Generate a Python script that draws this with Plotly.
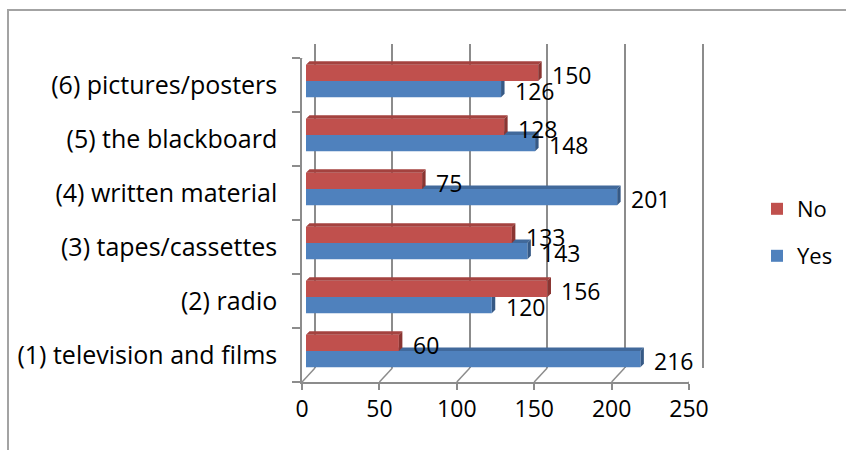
import plotly.graph_objects as go

# ---- data -------------------------------------------------------------
categories = [
    "(1) television and films",
    "(2) radio",
    "(3) tapes/cassettes",
    "(4) written material",
    "(5) the blackboard",
    "(6) pictures/posters",
]
yes_values = [216, 120, 143, 201, 148, 126]
no_values = [60, 156, 133, 75, 128, 150]
x_ticks = [0, 50, 100, 150, 200, 250]

# ---- geometry (pixels in an 846 x 450 canvas) -------------------------
W, H = 846, 450
FONT = "Open Sans"
FS = 23
CAT_FS = 25
GRID = "#8c8c8c"
BLUE, BLUE_TOP, BLUE_SIDE = "#4F81BD", "#41699B", "#365985"
RED, RED_TOP, RED_SIDE = "#C0504D", "#A4423F", "#8A3532"

X_MAX = 250
FRONT_L, FRONT_R = 302, 689          # front plane x extent
FRONT_T, FRONT_B = 58, 382           # front plane y extent
DEPTH_X, DEPTH_Y = 13, 14            # back wall offset
BAR_DX, BAR_DY = 4, 4                # bar plane offset
BAR_W = 0.30                         # bar thickness (category units)
FACE = 3.5                           # bar bevel depth in px
PX_PER_UNIT = (FRONT_R - FRONT_L) / X_MAX


def fx(p):
    return p / W


def fy(p):
    return 1 - p / H


idx = list(range(len(categories)))

fig = go.Figure()

# empty trace so the back-wall subplot (and its gridlines) gets built
fig.add_trace(go.Scatter(x=[], y=[], xaxis="x2", yaxis="y2",
                         showlegend=False, hoverinfo="skip"))

# bars live on their own (slightly recessed) axis pair
fig.add_trace(go.Bar(
    name="Yes", y=idx, x=yes_values, orientation="h",
    width=BAR_W, offset=-BAR_W, marker=dict(color=BLUE, line_width=0),
    xaxis="x3", yaxis="y3", legend="legend2", hoverinfo="skip",
))
fig.add_trace(go.Bar(
    name="No", y=idx, x=no_values, orientation="h",
    width=BAR_W, offset=0, marker=dict(color=RED, line_width=0),
    xaxis="x3", yaxis="y3", legend="legend", hoverinfo="skip",
))

shapes = []
dx_units = FACE / PX_PER_UNIT
bar_px = BAR_W * (FRONT_B - FRONT_T) / len(categories)


def bevel(value, top, top_col, side_col, layer):
    # top face
    shapes.append(dict(
        type="path", xref="x3", yref="y3", ysizemode="pixel", yanchor=top,
        path=f"M0,0 L{value},0 L{value + dx_units},{FACE} L{dx_units},{FACE} Z",
        fillcolor=top_col, line_width=0, layer=layer,
    ))
    # right end face
    shapes.append(dict(
        type="path", xref="x3", yref="y3", ysizemode="pixel", yanchor=top,
        path=(f"M{value},0 L{value},{-bar_px} L{value + dx_units},{-bar_px + FACE} "
              f"L{value + dx_units},{FACE} Z"),
        fillcolor=side_col, line_width=0, layer=layer,
    ))


for i, v in enumerate(yes_values):
    bevel(v, i, BLUE_TOP, BLUE_SIDE, "between")
for i, v in enumerate(no_values):
    bevel(v, i + BAR_W, RED_TOP, RED_SIDE, "above")

# floor edges running from the front ticks back to the wall
for v in x_ticks:
    shapes.append(dict(
        type="line", xref="x", yref="y",
        xsizemode="pixel", xanchor=v, x0=0, x1=DEPTH_X,
        ysizemode="pixel", yanchor=-0.5, y0=0, y1=DEPTH_Y,
        line=dict(color=GRID, width=1.5),
    ))
# top edge of the side wall
shapes.append(dict(
    type="line", xref="x", yref="y",
    xsizemode="pixel", xanchor=0, x0=0, x1=DEPTH_X,
    ysizemode="pixel", yanchor=len(categories) - 0.5, y0=0, y1=DEPTH_Y,
    line=dict(color=GRID, width=1.5),
))
# chart-area frame
shapes.append(dict(
    type="rect", xref="paper", yref="paper",
    x0=fx(8), y0=fy(10), x1=1.05, y1=-0.05,
    line=dict(color="#a3a3a3", width=2), fillcolor="rgba(0,0,0,0)",
))

# value labels
annotations = []
for i, v in enumerate(yes_values):
    annotations.append(dict(
        x=v, y=i - BAR_W / 2, xref="x3", yref="y3", text=str(v),
        showarrow=False, xanchor="left", yanchor="middle", xshift=12, yshift=-2,
        font=dict(family=FONT, size=FS, color="#000"),
    ))
for i, v in enumerate(no_values):
    annotations.append(dict(
        x=v, y=i + BAR_W / 2, xref="x3", yref="y3", text=str(v),
        showarrow=False, xanchor="left", yanchor="middle", xshift=12, yshift=-2,
        font=dict(family=FONT, size=FS, color="#000"),
    ))

axis_font = dict(family=FONT, size=FS, color="#000")

fig.update_layout(
    width=W, height=H,
    margin=dict(l=0, r=0, t=0, b=0, autoexpand=False),
    paper_bgcolor="white", plot_bgcolor="rgba(0,0,0,0)",
    font=dict(family=FONT, size=FS, color="#000"),
    shapes=shapes, annotations=annotations,
    # front plane: tick labels, floor edge, side-wall edge
    xaxis=dict(
        domain=[fx(FRONT_L), fx(FRONT_R)], range=[0, X_MAX], anchor="y",
        tickmode="array", tickvals=x_ticks, ticks="outside", ticklen=6,
        tickcolor=GRID, tickwidth=1.5, showline=True, linecolor=GRID, linewidth=1.5,
        showgrid=False, zeroline=False, tickfont=axis_font, fixedrange=True,
    ),
    yaxis=dict(
        domain=[fy(FRONT_B), fy(FRONT_T)], range=[-0.5, len(categories) - 0.5],
        anchor="x", tickmode="array", tickvals=idx, ticktext=categories,
        ticks="outside", ticklen=8, tickcolor="rgba(0,0,0,0)",
        minor=dict(ticks="outside", ticklen=8, tickcolor=GRID, tickwidth=1.5,
                   tick0=0.5, dtick=1),
        showline=True, linecolor=GRID, linewidth=1.5,
        showgrid=False, zeroline=False,
        tickfont=dict(family=FONT, size=CAT_FS, color="#000"), fixedrange=True,
        ticklabelstandoff=10,
    ),
    # back wall: gridlines
    xaxis2=dict(
        domain=[fx(FRONT_L + DEPTH_X), fx(FRONT_R + DEPTH_X)], range=[0, X_MAX],
        anchor="y2", tickmode="array", tickvals=x_ticks, showticklabels=False,
        ticks="", showgrid=True, gridcolor=GRID, gridwidth=1.5,
        zeroline=True, zerolinecolor=GRID, zerolinewidth=1.5, fixedrange=True,
    ),
    yaxis2=dict(
        domain=[fy(FRONT_B - DEPTH_Y), fy(FRONT_T - DEPTH_Y)],
        range=[-0.5, len(categories) - 0.5], anchor="x2", side="right",
        showline=True, linecolor=GRID, linewidth=1.5,
        showticklabels=False, ticks="", showgrid=False, zeroline=False, fixedrange=True,
    ),
    # bar plane
    xaxis3=dict(
        domain=[fx(FRONT_L + BAR_DX), fx(FRONT_R + BAR_DX)], range=[0, X_MAX],
        anchor="y3", visible=False, fixedrange=True,
    ),
    yaxis3=dict(
        domain=[fy(FRONT_B - BAR_DY), fy(FRONT_T - BAR_DY)],
        range=[-0.5, len(categories) - 0.5], anchor="x3", visible=False, fixedrange=True,
    ),
    legend=dict(x=fx(757), y=fy(209), xanchor="left", yanchor="middle",
                font=dict(family=FONT, size=FS - 1), bgcolor="rgba(0,0,0,0)"),
    legend2=dict(x=fx(757), y=fy(256), xanchor="left", yanchor="middle",
                 font=dict(family=FONT, size=FS - 1), bgcolor="rgba(0,0,0,0)"),
    showlegend=True,
)

fig.write_html("out.html")
